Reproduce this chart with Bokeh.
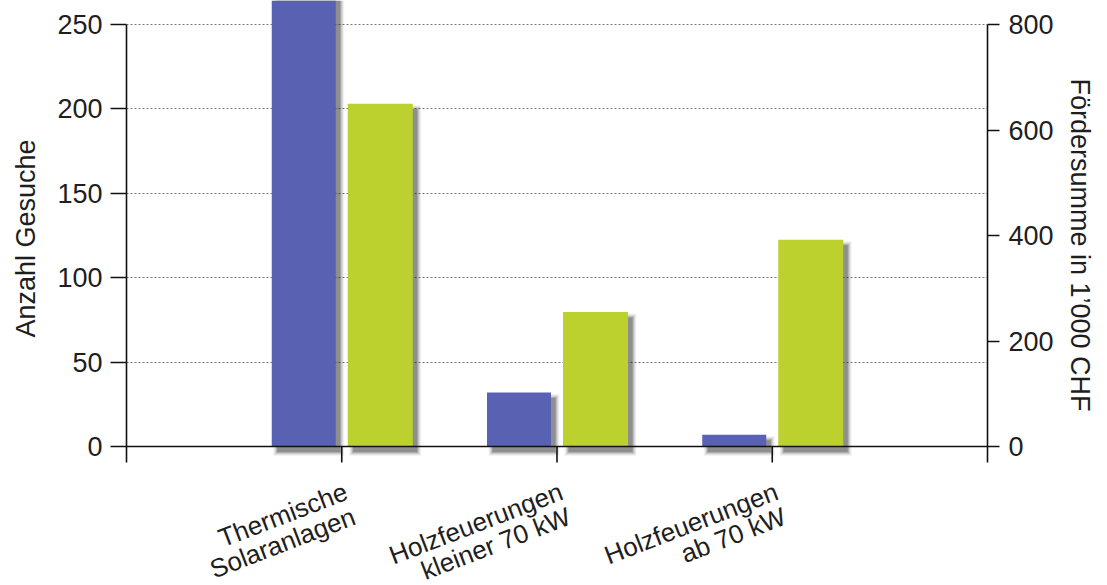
import math
from bokeh.plotting import figure
from bokeh.models import Range1d, LinearAxis, FixedTicker, Label, Span, Title
from bokeh.embed import file_html
from bokeh.resources import INLINE

# ---- data ----
categories_line1 = ["Thermische", "Holzfeuerungen", "Holzfeuerungen"]
categories_line2 = ["Solaranlagen", "kleiner 70 kW", "ab 70 kW"]
positions = [1, 2, 3]
anzahl_gesuche = [280, 32, 7]          # left axis (blue)
foerdersumme = [650, 255, 392]         # right axis, in 1'000 CHF (green)
left_ticks = [0, 50, 100, 150, 200, 250]
right_ticks = [0, 200, 400, 600, 800]
left_title = "Anzahl Gesuche"
right_title = "Fördersumme in 1’000 CHF"

FONT = "Liberation Sans"
BLUE = "#5961B3"
GREEN = "#BDD12E"
TXT = "#1e1e1e"
AX = "#111111"

W, H = 1107, 585
FL, FR = 126, 120
frame_w = W - FL - FR
zero_px = 446                      # screen row of the zero line
pxu_l = 422 / 250.0                # px per left unit
pxu_r = 422 / 800.0                # px per right unit
left_end = zero_px / pxu_l
left_start = -(H - zero_px) / pxu_l
right_end = zero_px / pxu_r
right_start = -(H - zero_px) / pxu_r

p = figure(width=W, height=H, output_backend="svg", toolbar_location=None,
           x_range=Range1d(0, 4), y_range=Range1d(left_start, left_end),
           min_border_left=FL, min_border_right=FR, min_border_top=0, min_border_bottom=0,
           x_axis_location=None, y_axis_location=None)
p.extra_y_ranges = {"right": Range1d(right_start, right_end)}
p.outline_line_color = None
p.background_fill_color = "white"
p.border_fill_color = "white"

px_x = 4.0 / frame_w
px_yl = 1 / pxu_l
px_yr = 1 / pxu_r

bw_blue = 64 * px_x
bw_green = 65 * px_x
off_blue = -38 * px_x
off_green = 38.5 * px_x

xb = [x + off_blue for x in positions]
xg = [x + off_green for x in positions]

# grid (behind bars)
p.xgrid.visible = False
p.ygrid.ticker = FixedTicker(ticks=left_ticks[1:])
p.ygrid.grid_line_color = "#777777"
p.ygrid.grid_line_dash = "2 2"
p.ygrid.grid_line_width = 1

# shadows (soft, offset right/down)
for grow, alpha in [(7, 0.05), (5, 0.08), (3, 0.12), (1, 0.17), (-1, 0.22)]:
    dx = 5 * px_x
    p.vbar(x=[x + dx for x in xb], width=bw_blue + grow * px_x,
           top=[v - 5 * px_yl + grow / 2 * px_yl for v in anzahl_gesuche],
           bottom=-(6 + grow / 2) * px_yl, fill_color="#202020", fill_alpha=alpha, line_color=None)
    p.vbar(x=[x + dx for x in xg], width=bw_green + grow * px_x,
           top=[v - 5 * px_yr + grow / 2 * px_yr for v in foerdersumme],
           bottom=-(6 + grow / 2) * px_yr, fill_color="#202020", fill_alpha=alpha, line_color=None,
           y_range_name="right")

p.vbar(x=xb, width=bw_blue, top=anzahl_gesuche, bottom=0,
       fill_color=BLUE, line_color=None)
p.vbar(x=xg, width=bw_green, top=foerdersumme, bottom=0,
       fill_color=GREEN, line_color=None, y_range_name="right")

# x axis line at zero and category ticks
p.add_layout(Span(location=0, dimension="width", line_color=AX, line_width=1.6))
p.segment(x0=positions, x1=positions, y0=[0] * len(positions),
          y1=[-16 * px_yl] * len(positions), line_color=AX, line_width=1.6)

# y axes
yl = LinearAxis(ticker=FixedTicker(ticks=left_ticks), bounds=(-16 * px_yl, 250))
yr = LinearAxis(ticker=FixedTicker(ticks=right_ticks), bounds=(-16 * px_yr, 800),
                y_range_name="right")

for ax in (yl, yr):
    ax.axis_line_color = AX
    ax.axis_line_width = 1.6
    ax.major_tick_line_color = AX
    ax.major_tick_line_width = 1.6
    ax.major_tick_in = 0
    ax.minor_tick_line_color = None
    ax.major_label_text_font = FONT
    ax.major_label_text_color = TXT
    ax.major_label_text_font_size = "27px"

yl.major_tick_out = 16
yl.major_label_standoff = 8
yr.major_tick_out = 12
yr.major_label_standoff = 9

p.add_layout(yl, "left")
p.add_layout(yr, "right")

# small spacers between the axes and their titles
p.add_layout(Title(text=" ", text_font_size="1px", standoff=2), "left")
p.add_layout(Title(text=" ", text_font_size="1px", standoff=0), "right")

# axis titles (placed along the axes with an offset)
tl = Title(text=left_title, align="left", offset=248, standoff=17,
           text_font=FONT, text_font_size="27px", text_font_style="normal", text_color=TXT)
tr = Title(text=right_title, align="left", offset=78, standoff=10,
           text_font=FONT, text_font_size="27px", text_font_style="normal", text_color=TXT)
p.add_layout(tl, "left")
p.add_layout(tr, "right")

# category labels (two rotated lines, right aligned)
ang = math.radians(21)
l1_dx, l1_dy = -0.8, 30.0     # screen px offset of line-1 anchor from tick/zero line
l2_dx, l2_dy = 7.7, 24.9      # extra offset of line 2
for pos, t1, t2 in zip(positions, categories_line1, categories_line2):
    for txt, ddx, ddy in ((t1, l1_dx, l1_dy), (t2, l1_dx + l2_dx, l1_dy + l2_dy)):
        p.add_layout(Label(x=pos + ddx * px_x, y=-ddy * px_yl, text=txt,
                           angle=ang, text_align="right", text_baseline="top",
                           text_font=FONT, text_font_size="26px", text_color=TXT))

open("out.html", "w").write(file_html(p, INLINE))
